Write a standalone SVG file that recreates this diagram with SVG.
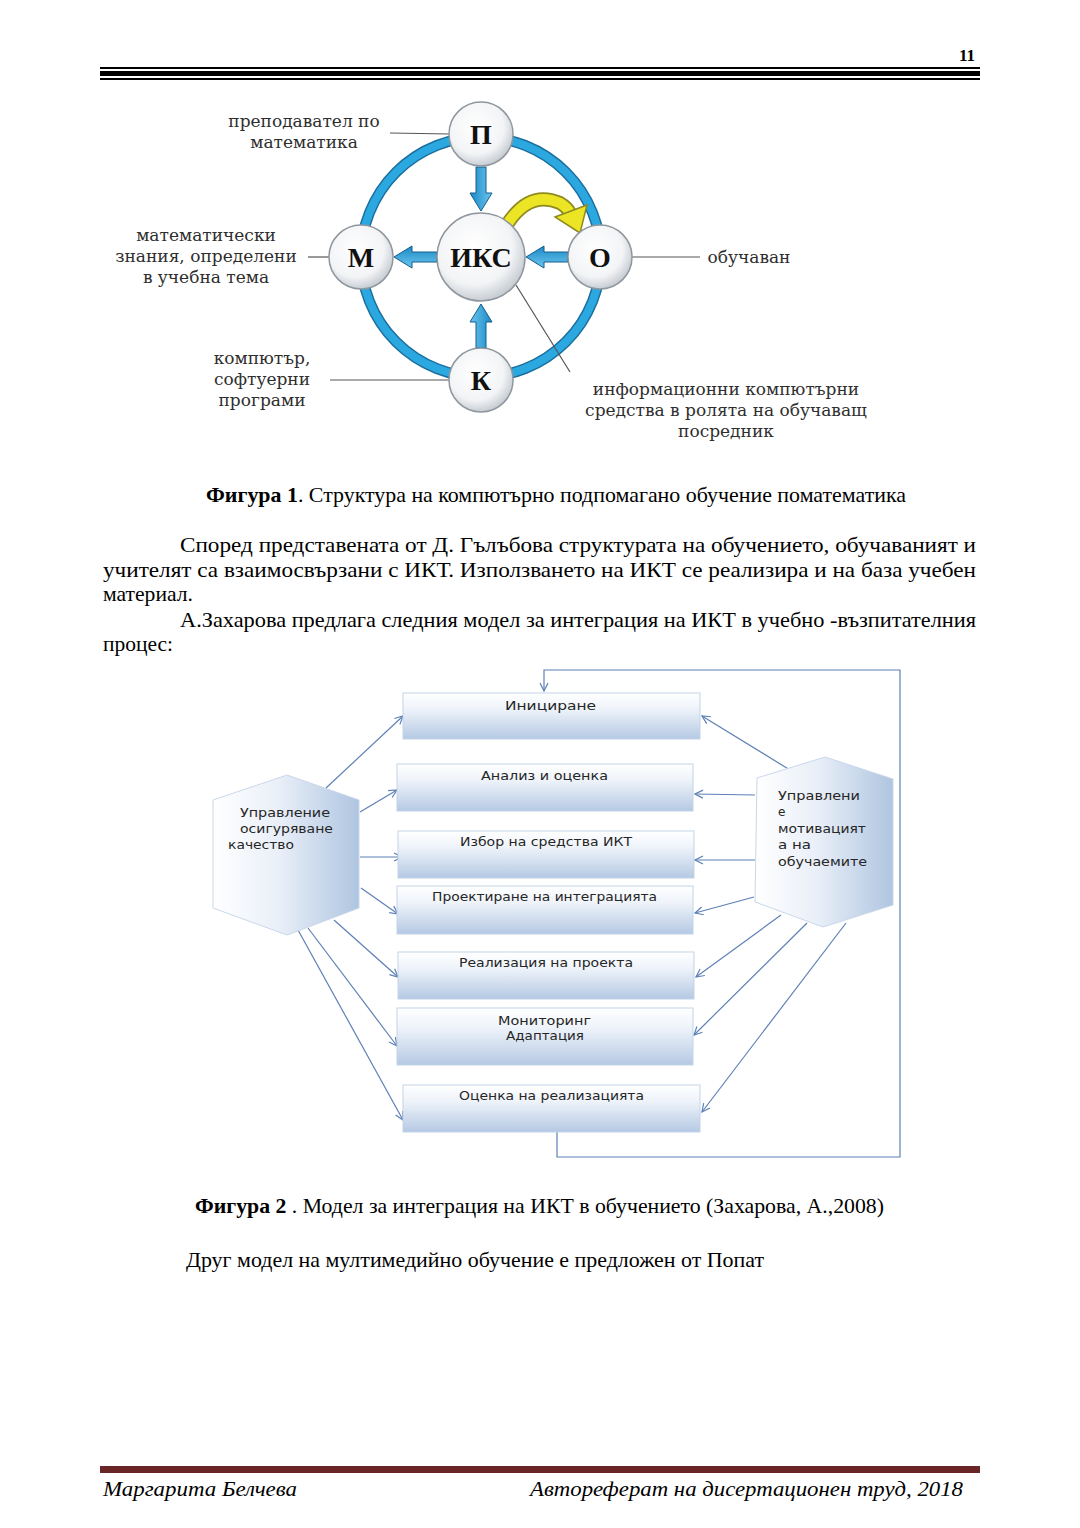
<svg xmlns="http://www.w3.org/2000/svg" width="1080" height="1528" viewBox="0 0 1080 1528">
<style>
.body{font-family:"Liberation Serif","Times New Roman",serif;font-size:21px;fill:#000}
.cap{font-family:"Liberation Serif","Times New Roman",serif;font-size:21px;fill:#000}
.lbl{font-family:"DejaVu Serif",serif;font-size:17px;fill:#2e2e2e;text-anchor:middle}
.let{font-family:"Liberation Serif","Times New Roman",serif;font-weight:bold;font-size:28px;fill:#111;text-anchor:middle}
.bx{font-family:"DejaVu Sans",sans-serif;font-size:12px;fill:#262626}
.hx{font-family:"DejaVu Sans",sans-serif;font-size:12px;fill:#262626}
.foot{font-family:"Liberation Serif","Times New Roman",serif;font-style:italic;font-size:22px;fill:#000}
.thin{stroke:#555;stroke-width:1.2;fill:none}
.conn{stroke:#5d80b6;stroke-width:1.2;fill:none}
.box{fill:url(#gBox);stroke:#c3d3e8;stroke-width:1}
.hex{fill:url(#gHex);stroke:#c9d7ea;stroke-width:1}
.node{fill:url(#gNode);stroke:#8f979e;stroke-width:1.5}
.barr{fill:url(#gBlue);stroke:#155d8c;stroke-width:1}
</style>
<defs>
<linearGradient id="gBox" x1="0" y1="0" x2="0" y2="1">
<stop offset="0" stop-color="#ffffff"/>
<stop offset="0.35" stop-color="#eef3fa"/>
<stop offset="1" stop-color="#b5c9e3"/>
</linearGradient>
<linearGradient id="gHex" x1="0" y1="0" x2="1" y2="0">
<stop offset="0" stop-color="#ffffff"/>
<stop offset="0.45" stop-color="#e9eff8"/>
<stop offset="1" stop-color="#afc5e0"/>
</linearGradient>
<radialGradient id="gNode" cx="0.42" cy="0.38" r="0.62">
<stop offset="0" stop-color="#ffffff"/>
<stop offset="0.7" stop-color="#f3f4f6"/>
<stop offset="1" stop-color="#c8ced4"/>
</radialGradient>
<linearGradient id="gBlue" x1="0" y1="0" x2="0" y2="1">
<stop offset="0" stop-color="#6cc6ef"/>
<stop offset="1" stop-color="#1a88c4"/>
</linearGradient>
<marker id="ah" viewBox="0 0 10 10" refX="9" refY="5" markerWidth="10" markerHeight="10" markerUnits="userSpaceOnUse" orient="auto">
<path d="M1,1 L9,5 L1,9" fill="none" stroke="#5d80b6" stroke-width="1.2"/>
</marker>
</defs>

<!-- page header -->
<g id="header">
<text x="975" y="61" font-family="Liberation Serif, serif" font-weight="bold" font-size="17" text-anchor="end">11</text>
<rect x="100" y="67" width="880" height="2" fill="#000"/>
<rect x="100" y="71" width="880" height="5" fill="#000"/>
<rect x="100" y="78" width="880" height="2" fill="#000"/>
</g>

<!-- FIGURE 1 -->
<g id="fig1">
<circle id="ring" cx="481" cy="257" r="120" fill="none" stroke="#1b6f9f" stroke-width="11"/>
<circle cx="481" cy="257" r="120" fill="none" stroke="#2ca8e0" stroke-width="8"/>

<g id="fig1-connectors">
<line class="thin" x1="390" y1="133" x2="450" y2="134"/>
<line class="thin" x1="308" y1="257" x2="330" y2="257"/>
<line class="thin" x1="632" y1="257" x2="700" y2="257"/>
<line class="thin" x1="330" y1="380" x2="449" y2="380"/>
<line class="thin" x1="516" y1="285" x2="570" y2="372"/>
<path class="barr" transform="translate(481,167) rotate(90)" d="M0,-5 L26,-5 L26,-11 L44,0 L26,11 L26,5 L0,5 Z"/>
<path class="barr" transform="translate(437,257) rotate(180)" d="M0,-5 L25,-5 L25,-11 L43,0 L25,11 L25,5 L0,5 Z"/>
<path class="barr" transform="translate(568,257) rotate(180)" d="M0,-5 L24,-5 L24,-11 L42,0 L24,11 L24,5 L0,5 Z"/>
<path class="barr" transform="translate(481,348) rotate(-90)" d="M0,-5 L26,-5 L26,-11 L44,0 L26,11 L26,5 L0,5 Z"/>
<path d="M508,223 Q530,190 560,203 Q567,207 570,213" fill="none" stroke="#8c8a1e" stroke-width="14" stroke-linecap="butt"/>
<path d="M508,223 Q530,190 560,203 Q567,207 570,213" fill="none" stroke="#ece526" stroke-width="10.5" stroke-linecap="butt"/>
<polygon points="555,217 587,205 580,233" fill="#ece526" stroke="#8c8a1e" stroke-width="1.5"/>
</g>

<g id="nodeP"><circle class="node" cx="481" cy="134" r="32"/><text class="let" x="481" y="144">П</text></g>
<g id="nodeIKS"><circle class="node" cx="481" cy="257" r="44"/><text class="let" x="481" y="267">ИКС</text></g>
<g id="nodeM"><circle class="node" cx="361" cy="257" r="32"/><text class="let" x="361" y="267">М</text></g>
<g id="nodeO"><circle class="node" cx="600" cy="257" r="32"/><text class="let" x="600" y="267">О</text></g>
<g id="nodeK"><circle class="node" cx="481" cy="380" r="32"/><text class="let" x="481" y="390">К</text></g>

<g id="labels1">
<text class="lbl" x="304" y="127">преподавател по</text>
<text class="lbl" x="304" y="148">математика</text>
<text class="lbl" x="206" y="241">математически</text>
<text class="lbl" x="206" y="262">знания, определени</text>
<text class="lbl" x="206" y="283">в учебна тема</text>
<text class="lbl" x="749" y="263">обучаван</text>
<text class="lbl" x="262" y="364">компютър,</text>
<text class="lbl" x="262" y="385">софтуерни</text>
<text class="lbl" x="262" y="406">програми</text>
<text class="lbl" x="726" y="395">информационни компютърни</text>
<text class="lbl" x="726" y="416">средства в ролята на обучаващ</text>
<text class="lbl" x="726" y="437">посредник</text>
</g>
</g>

<text class="cap" x="206" y="502" textLength="700" lengthAdjust="spacingAndGlyphs"><tspan font-weight="bold">Фигура 1</tspan>. Структура на компютърно подпомагано обучение поматематика</text>

<g id="paragraph">
<text class="body" x="180" y="552" textLength="796" lengthAdjust="spacingAndGlyphs">Според представената от Д. Гълъбова структурата на обучението, обучаваният и</text>
<text class="body" x="103" y="577" textLength="873" lengthAdjust="spacingAndGlyphs">учителят са взаимосвързани с ИКТ. Използването на ИКТ се реализира и на база учебен</text>
<text class="body" x="103" y="601" textLength="90" lengthAdjust="spacingAndGlyphs">материал.</text>
<text class="body" x="180" y="627" textLength="796" lengthAdjust="spacingAndGlyphs">А.Захарова предлага следния модел за интеграция на ИКТ в учебно -възпитателния</text>
<text class="body" x="103" y="651" textLength="70" lengthAdjust="spacingAndGlyphs">процес:</text>
</g>

<!-- FIGURE 2 -->
<g id="fig2">
<g id="connectors">
<polyline class="conn" points="557,1132 557,1157 900,1157 900,670 544,670 544,691" marker-end="url(#ah)" stroke-width="1.4"/>
<line class="conn" x1="326" y1="788" x2="403" y2="716" marker-end="url(#ah)"/>
<line class="conn" x1="360" y1="812" x2="397" y2="790" marker-end="url(#ah)"/>
<line class="conn" x1="360" y1="857" x2="402" y2="857" marker-end="url(#ah)"/>
<line class="conn" x1="361" y1="888" x2="398" y2="914" marker-end="url(#ah)"/>
<line class="conn" x1="334" y1="920" x2="398" y2="977" marker-end="url(#ah)"/>
<line class="conn" x1="308" y1="928" x2="397" y2="1046" marker-end="url(#ah)"/>
<line class="conn" x1="298" y1="930" x2="403" y2="1120" marker-end="url(#ah)"/>
<line class="conn" x1="790" y1="770" x2="702" y2="716" marker-end="url(#ah)"/>
<line class="conn" x1="755" y1="795" x2="695" y2="794" marker-end="url(#ah)"/>
<line class="conn" x1="755" y1="860" x2="695" y2="860" marker-end="url(#ah)"/>
<line class="conn" x1="754" y1="897" x2="695" y2="913" marker-end="url(#ah)"/>
<line class="conn" x1="781" y1="915" x2="696" y2="977" marker-end="url(#ah)"/>
<line class="conn" x1="807" y1="923" x2="694" y2="1035" marker-end="url(#ah)"/>
<line class="conn" x1="846" y1="923" x2="702" y2="1112" marker-end="url(#ah)"/>
</g>

<g id="hexLeft">
<polygon class="hex" points="287,775 359,800 359,908 287,935 213,908 213,800"/>
<text class="hx" x="240" y="817" textLength="90" lengthAdjust="spacingAndGlyphs">Управление</text>
<text class="hx" x="240" y="833" textLength="93" lengthAdjust="spacingAndGlyphs">осигуряване</text>
<text class="hx" x="228" y="849" textLength="66" lengthAdjust="spacingAndGlyphs">качество</text>
</g>

<g id="hexRight">
<polygon class="hex" points="825,757 893,779 893,905 823,927 755,902 757,778"/>
<text class="hx" x="778" y="800" textLength="82" lengthAdjust="spacingAndGlyphs">Управлени</text>
<text class="hx" x="778" y="816">е</text>
<text class="hx" x="778" y="833" textLength="88" lengthAdjust="spacingAndGlyphs">мотивацият</text>
<text class="hx" x="778" y="849" textLength="33" lengthAdjust="spacingAndGlyphs">а на</text>
<text class="hx" x="778" y="866" textLength="89" lengthAdjust="spacingAndGlyphs">обучаемите</text>
</g>

<g id="box1"><rect class="box" x="403" y="693" width="297" height="46"/><text class="bx" x="505" y="710" textLength="91" lengthAdjust="spacingAndGlyphs">Инициране</text></g>
<g id="box2"><rect class="box" x="397" y="764" width="296" height="47"/><text class="bx" x="481" y="780" textLength="127" lengthAdjust="spacingAndGlyphs">Анализ и оценка</text></g>
<g id="box3"><rect class="box" x="398" y="831" width="296" height="47"/><text class="bx" x="460" y="846" textLength="172" lengthAdjust="spacingAndGlyphs">Избор на средства ИКТ</text></g>
<g id="box4"><rect class="box" x="397" y="886" width="296" height="48"/><text class="bx" x="432" y="901" textLength="225" lengthAdjust="spacingAndGlyphs">Проектиране на интеграцията</text></g>
<g id="box5"><rect class="box" x="398" y="952" width="296" height="47"/><text class="bx" x="459" y="967" textLength="174" lengthAdjust="spacingAndGlyphs">Реализация на проекта</text></g>
<g id="box6"><rect class="box" x="397" y="1008" width="296" height="57"/><text class="bx" x="498" y="1025" textLength="93" lengthAdjust="spacingAndGlyphs">Мониторинг</text><text class="bx" x="506" y="1040" textLength="78" lengthAdjust="spacingAndGlyphs">Адаптация</text></g>
<g id="box7"><rect class="box" x="403" y="1085" width="297" height="47"/><text class="bx" x="459" y="1100" textLength="185" lengthAdjust="spacingAndGlyphs">Оценка на реализацията</text></g>
</g>

<text class="cap" x="195" y="1213" textLength="689" lengthAdjust="spacingAndGlyphs"><tspan font-weight="bold">Фигура 2</tspan> . Модел за интеграция на ИКТ в обучението (Захарова, А.,2008)</text>

<text class="body" x="186" y="1267" textLength="578" lengthAdjust="spacingAndGlyphs">Друг модел на мултимедийно обучение е предложен от Попат</text>

<g id="footer">
<rect x="100" y="1466" width="880" height="7" fill="#6a2627"/>
<text class="foot" x="103" y="1496" textLength="194" lengthAdjust="spacingAndGlyphs">Маргарита Белчева</text>
<text class="foot" x="530" y="1496" textLength="433" lengthAdjust="spacingAndGlyphs">Автореферат на дисертационен труд, 2018</text>
</g>
</svg>
